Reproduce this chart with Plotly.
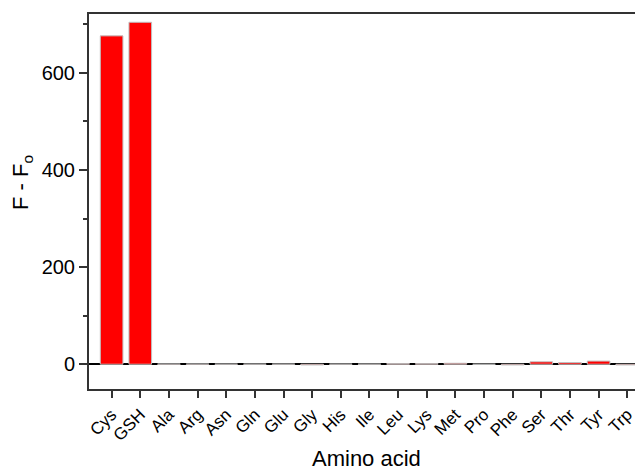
import plotly.graph_objects as go

categories = ["Cys", "GSH", "Ala", "Arg", "Asn", "Gln", "Glu", "Gly", "His", "Ile",
              "Leu", "Lys", "Met", "Pro", "Phe", "Ser", "Thr", "Tyr", "Trp"]
values = [676, 704, 0.5, 0.5, 0.3, 0.3, 0.3, -1.5, 0.3, 0.3,
          1.2, 1.2, 2.0, 0.0, -1.5, 5.0, 3.5, 6.5, -1.5]
y_ticks = [0, 200, 400, 600]
x_title = "Amino acid"
y_title = "F - F<sub>o</sub>"

font = "Arial, Liberation Sans, sans-serif"

fig = go.Figure()
fig.add_trace(go.Bar(
    x=list(range(len(categories))), y=values, width=0.79,
    marker=dict(color="#ff0000", line=dict(color="#c0c0c0", width=1)),
))

# page body has an 8px margin; compensate so the visible picture matches
fig.update_layout(
    width=635, height=464,
    margin=dict(l=81, r=0, t=6, b=83),
    plot_bgcolor="white", paper_bgcolor="white",
    showlegend=False,
    font=dict(family=font, color="black"),
    xaxis=dict(
        automargin=False,
        range=[-0.79, 18.55],
        tickmode="array", tickvals=list(range(len(categories))), ticktext=categories,
        tickangle=-45, tickfont=dict(size=17),
        ticks="outside", ticklen=7, tickwidth=1.5, tickcolor="#333",
        showline=True, linecolor="#333", linewidth=2, mirror=True,
        showgrid=False, zeroline=False,
    ),
    yaxis=dict(
        automargin=False,
        range=[-51, 721],
        tickmode="array", tickvals=y_ticks, tickfont=dict(size=20),
        ticks="outside", ticklen=8, tickwidth=1.5, tickcolor="#333",
        minor=dict(tickvals=[100, 300, 500, 700], ticks="outside", ticklen=4,
                   tickwidth=1.5, tickcolor="#333"),
        showline=True, linecolor="#333", linewidth=2, mirror=False,
        showgrid=False, zeroline=True, zerolinecolor="black", zerolinewidth=1.5,
    ),
    annotations=[
        dict(text=x_title, xref="paper", yref="paper", x=0.5, y=-0.186,
             xanchor="center", yanchor="middle", showarrow=False, borderpad=0,
             font=dict(size=22)),
        dict(text=y_title, xref="paper", yref="paper", x=-0.1210, y=0.552,
             xanchor="center", yanchor="middle", showarrow=False, textangle=-90,
             borderpad=0, font=dict(size=22)),
    ],
)

fig.write_html("out.html")
